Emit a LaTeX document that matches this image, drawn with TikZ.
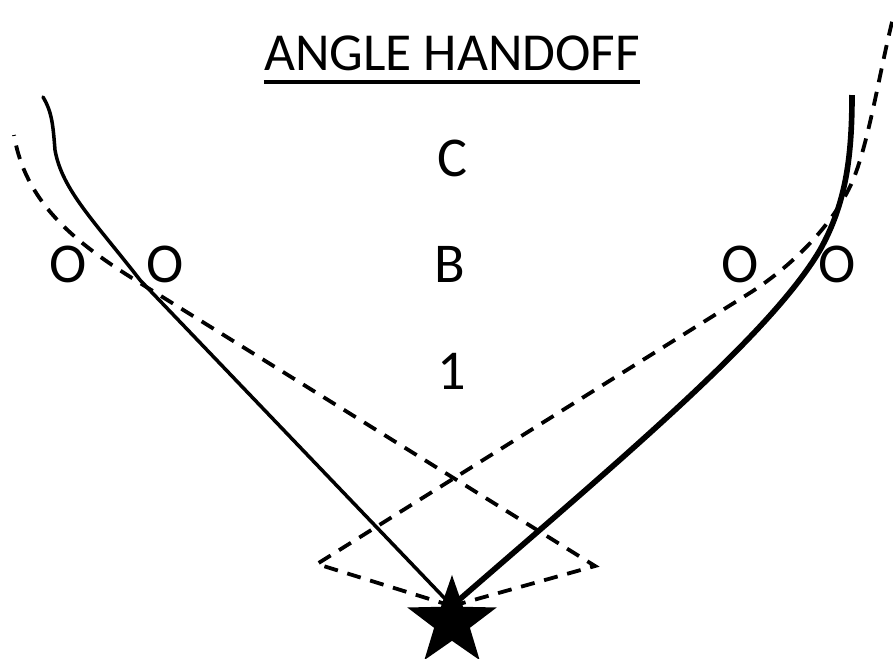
\documentclass[tikz,border=0pt]{standalone}
\usepackage{fontspec}
\setmainfont{Carlito}
\usetikzlibrary{shapes.geometric}

\begin{document}
\begin{tikzpicture}[
    x=0.025cm, y=-0.025cm,
    every node/.style={font=\fontsize{40}{48}\selectfont, inner sep=0pt},
    letter/.style={anchor=base},
    route/.style={line width=2.5pt, line cap=round},
    heavyroute/.style={line width=4pt},
    fakeroute/.style={line width=2.7pt, dash pattern=on 10pt off 7pt},
    underline/.style={line width=2.4pt},
    qb/.style={star, star points=5, star point ratio=2.5, fill=black,
        minimum size=2.35cm, inner sep=0pt}
]

\useasboundingbox (0,0) rectangle (893,658);

% Title
\node[letter, font=\fontsize{38}{46}\selectfont] (title) at (452,70) {ANGLE HANDOFF};
\draw[underline] ([yshift=-0.28cm]title.south west) -- ([yshift=-0.28cm]title.south east);

% Defense
\node[letter] (c) at (452,176) {C};
\node[letter] (b) at (450,282) {B};
\node[letter] (one) at (452,389) {1};

% Line
\node[letter] (o1) at (68,282) {O};
\node[letter] (o2) at (165,282) {O};
\node[letter] (o3) at (740,282) {O};
\node[letter] (o4) at (837,282) {O};

% Handoff point
\coordinate (hand) at (452,606);

% Fake routes
\draw[fakeroute] (hand) -- (595,566) -- (140,283)
    .. controls (70,240) and (25,200) .. (14,135);
\draw[fakeroute] (hand) -- (317,564) -- (745,296)
    .. controls (800,262) and (840,215) .. (855,175)
    .. controls (870,135) and (880,70) .. (893,18);

% Runs
\draw[route] (hand) -- (140,280)
    .. controls (95,222) and (62,190) .. (55,150)
    .. controls (53,125) and (52,112) .. (43,97);
\draw[heavyroute] (hand) .. controls (620,460) and (770,335) .. (820,250)
    .. controls (845,205) and (852,160) .. (852,95);

% QB
\node[qb] (qb) at (452,622) {};

\end{tikzpicture}
\end{document}
